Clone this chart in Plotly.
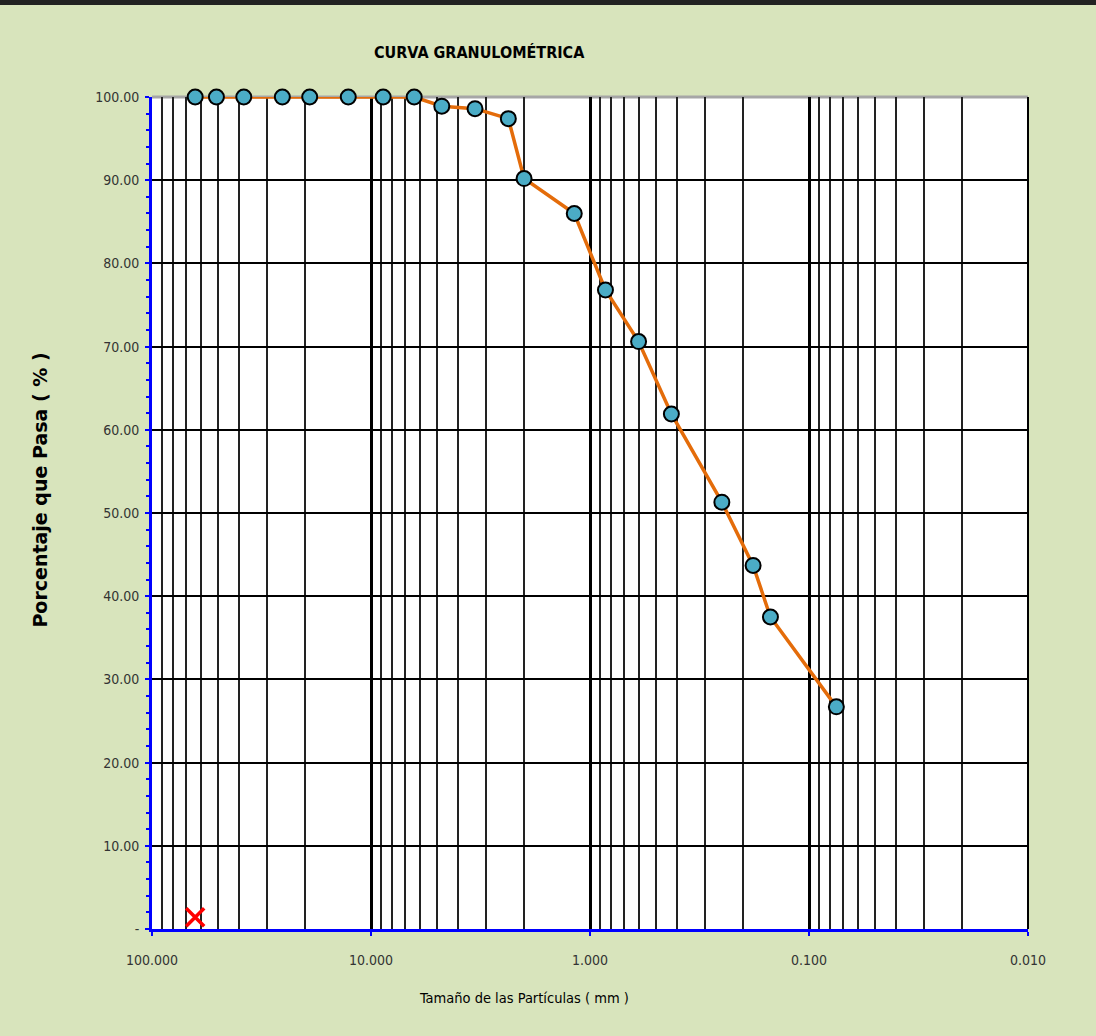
import plotly.graph_objects as go

# Data
sizes_mm = [63.5, 50.8, 38.1, 25.4, 19.05, 12.7, 8.8, 6.35, 4.75, 3.35, 2.36, 2.0,
            1.18, 0.85, 0.60, 0.425, 0.25, 0.18, 0.15, 0.075]
pct_pass = [100.0, 100.0, 100.0, 100.0, 100.0, 100.0, 100.0, 100.0, 98.9, 98.6, 97.4, 90.2,
            86.0, 76.8, 70.6, 61.9, 51.3, 43.7, 37.5, 26.7]
marker_x = [63.5]
marker_y = [1.4]

x_tickvals = [100, 10, 1, 0.1, 0.01]
x_ticktext = ["100.000", "10.000", "1.000", "0.100", "0.010"]
y_tickvals = [0, 10, 20, 30, 40, 50, 60, 70, 80, 90, 100]
y_ticktext = ["-", "10.00", "20.00", "30.00", "40.00", "50.00", "60.00", "70.00", "80.00", "90.00", "100.00"]

NARROW = "Liberation Sans Narrow, DejaVu Sans Condensed, Arial Narrow, sans-serif"

fig = go.Figure()
fig.add_trace(go.Scatter(
    x=sizes_mm, y=pct_pass, mode="lines+markers",
    line=dict(color="#e46c0a", width=3.5),
    marker=dict(symbol="circle", size=15, color="#4bacc6", line=dict(color="black", width=2)),
    showlegend=False, cliponaxis=False,
))
fig.add_trace(go.Scatter(
    x=marker_x, y=marker_y, mode="markers",
    marker=dict(symbol="x-thin", size=18, color="red", line=dict(color="red", width=3.5)),
    showlegend=False, cliponaxis=False,
))

fig.update_layout(
    width=1096, height=1036,
    paper_bgcolor="#d8e4bc", plot_bgcolor="white",
    margin=dict(l=144, r=76, t=89, b=115),
    xaxis=dict(
        type="log", range=[2, -2], tickvals=x_tickvals, ticktext=x_ticktext,
        showgrid=True, gridcolor="black", gridwidth=3,
        minor=dict(dtick="D1", showgrid=True, gridcolor="#222", gridwidth=1.6),
        showline=True, linecolor="blue", linewidth=3,
        ticks="outside", tickcolor="blue", ticklen=4, tickwidth=2,
        ticklabelstandoff=12,
        tickfont=dict(family=NARROW, size=14, color="#333"),
        zeroline=False,
    ),
    yaxis=dict(
        range=[0, 100], tickvals=y_tickvals, ticktext=y_ticktext,
        showgrid=True, gridcolor="black", gridwidth=2.2,
        showline=True, linecolor="blue", linewidth=3,
        ticks="outside", tickcolor="blue", ticklen=4, tickwidth=2,
        minor=dict(dtick=2, ticks="outside", ticklen=3, tickcolor="blue", tickwidth=2, showgrid=False),
        ticklabelstandoff=3,
        tickfont=dict(family=NARROW, size=14, color="#333"),
        zeroline=False,
    ),
    shapes=[
        dict(type="line", xref="paper", yref="paper", x0=0, x1=1, y0=1, y1=1,
             line=dict(color="#a6a6a6", width=3), layer="below"),
        dict(type="line", xref="paper", yref="paper", x0=1, x1=1, y0=0, y1=1,
             line=dict(color="black", width=2)),
    ],
    annotations=[
        dict(text="<b>CURVA GRANULOMÉTRICA</b>", xref="paper", yref="paper",
             x=0.374, y=1.053, showarrow=False, xanchor="center", yanchor="middle",
             font=dict(family=NARROW, size=16, color="black")),
        dict(text="Tamaño de las Partículas ( mm )", xref="paper", yref="paper",
             x=0.425, y=-0.083, showarrow=False, xanchor="center", yanchor="middle",
             font=dict(family=NARROW, size=14.5, color="black")),
        dict(text="<b>Porcentaje que Pasa ( % )</b>", xref="paper", yref="paper",
             x=-0.128, y=0.528, showarrow=False, xanchor="center", yanchor="middle",
             textangle=-90,
             font=dict(family="DejaVu Sans, sans-serif", size=19, color="black")),
    ],
)

page_bg = ("document.documentElement.style.background="
           "'linear-gradient(to bottom, #222 0px, #222 5px, #d8e4bc 5px, #d8e4bc 100%)';"
           "document.documentElement.style.minHeight='100%';"
           "document.body.style.background='transparent';")

fig.write_html("out.html", post_script=page_bg)
